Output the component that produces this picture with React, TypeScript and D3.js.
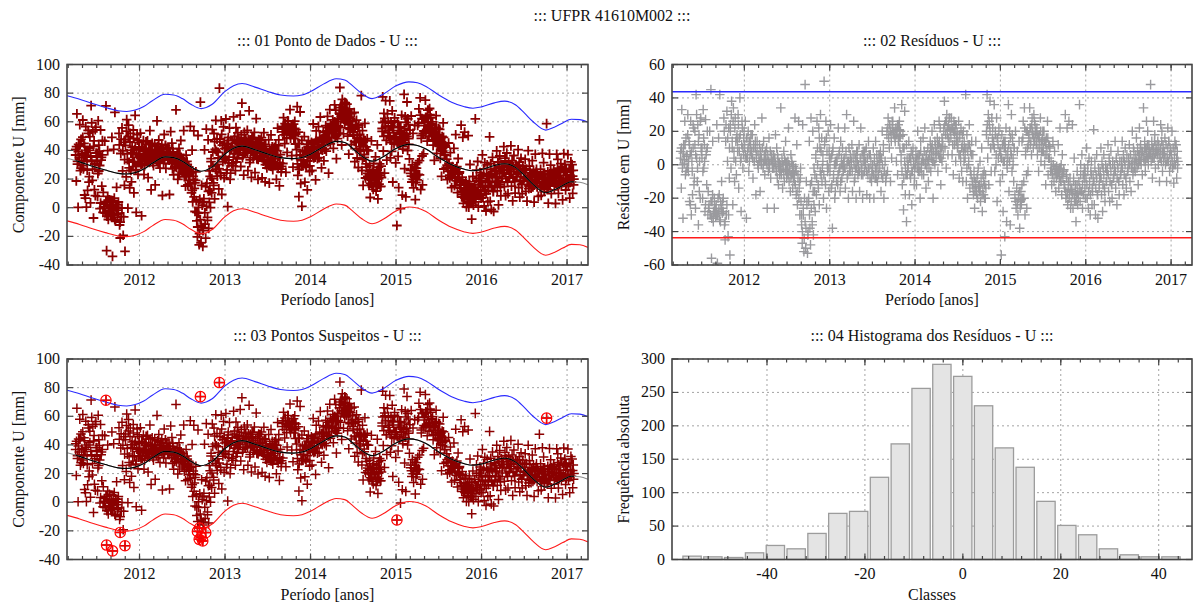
import React from 'react';
import * as d3 from 'd3';

// ---------------- data ----------------
const tituloGeral = '::: UFPR 41610M002 :::';
const titulos = [
  '::: 01 Ponto de Dados - U :::',
  '::: 02 Resíduos - U :::',
  '::: 03 Pontos Suspeitos - U :::',
  '::: 04 Histograma dos Resíduos - U :::',
];
const anosTicks = [2012, 2013, 2014, 2015, 2016, 2017];
const periodo: [number, number] = [2011.152, 2017.245];
const compTicks = [100, 80, 60, 40, 20, 0, -20, -40];
const resTicks = [60, 40, 20, 0, -20, -40, -60];
const freqTicks = [0, 50, 100, 150, 200, 250, 300];
const classeTicks = [-40, -20, 0, 20, 40];

// residuals (mm), one string per month, starting April 2011 (scattered readings)
const primeiroMes = 2011.25;
const residuosMensais: string[] = [
  '8 -14 33 0 -32 12 3 26 -6 16 5 -2',
  '30 -4 14 -22 6 26 -30 2 -18 10 22 -8',
  '12 -26 42 4 -10 24 -36 18 2 -20 28 8',
  '4 -20 33 -2 12 -28 27 6 -12 10 -30 -26',
  '-24 20 -30 45 -56 -22 14 -34 -28 -20 -26 -31',
  '-26 24 -59 -30 16 -18 42 -34 -24 -10 -28 -22',
  '-20 28 -36 -45 14 -30 32 2 -43 22 -8 -54',
  '24 -2 38 10 -24 34 4 -10 28 14 -6 18',
  '8 30 -14 16 40 2 -28 12 22 -2 6 20',
  '10 26 4 -32 16 8 20 -4 2 14 12 6',
  '6 18 -8 10 2 24 14 -18 4 8 0 -2',
  '4 12 -16 6 0 28 10 -2 14 2 -6 8',
  '2 10 -26 6 -4 16 0 8 -8 4 6 -2',
  '0 6 -26 2 18 -4 10 -8 4 -12 -2 -6',
  '-2 34 -6 4 -14 0 8 -10 2 14 -4 -8',
  '-4 2 22 -10 -2 -16 6 -6 0 -14 -8 -4',
  '-10 28 -2 -18 12 -24 -6 26 -14 -30 -8 -22',
  '-36 -47 24 -30 -52 -20 48 -50 -10 -24 -53 -40',
  '-22 14 -38 -48 28 -10 -34 20 -42 -2 -16 -28',
  '6 -18 26 0 -12 22 -24 10 30 -6 16 -2',
  '2 -20 50 14 -10 26 -26 8 -4 20 -16 4',
  '-2 24 -14 6 -38 10 -6 16 -20 2 0 -10',
  '4 -12 22 -4 8 -16 14 0 -8 10 -2 2',
  '-2 22 -14 6 30 -8 2 -20 10 0 -4 4',
  '0 12 -16 4 26 -10 6 -2 -20 8 2 -6',
  '-2 12 -16 4 22 -6 0 -20 8 6 -4 2',
  '0 10 -18 4 -6 14 -2 -20 6 2 -10 -4',
  '-4 10 -20 2 -8 14 -2 6 -10 0 -6 4',
  '0 8 -16 4 20 -8 12 -20 -4 2 -10 -6',
  '20 -4 28 16 10 24 -10 18 4 22 26 20',
  '18 34 14 22 2 20 -6 24 16 26 10 20',
  '2 36 -12 18 -27 10 32 -18 -6 -34 4 -2',
  '0 14 -18 4 -8 8 -24 -4 10 2 -12 -2',
  '2 8 -12 4 20 -4 0 6 -20 14 -2 -6',
  '4 16 -6 8 22 0 -14 6 2 10 -10 -2',
  '6 14 -4 10 20 2 -20 8 24 0 12 4',
  '8 16 -4 12 26 4 22 -12 10 2 14 6',
  '22 38 10 26 -2 30 18 6 24 14 28 20',
  '18 28 6 22 -6 26 12 20 2 24 16 10',
  '14 26 -8 18 6 22 -4 12 -10 20 2 10',
  '6 42 -10 18 -20 12 0 24 -14 8 -6 14',
  '-12 6 -18 -4 -26 -10 14 -16 -8 -20 -2 -14',
  '-16 2 -22 -10 10 -28 -6 -18 -4 -12 -20 -14',
  '20 42 4 30 -12 24 38 10 -4 28 16 12',
  '12 36 -4 20 0 28 -22 16 4 22 8 -10',
  '6 -54 18 -6 -28 14 2 -43 10 22 -34 -2',
  '4 36 -16 20 -36 8 30 -4 14 0 -10 10',
  '-20 20 -26 -14 8 -30 -18 14 -38 -22 -16 -24',
  '14 -20 26 -10 34 -30 6 20 -26 10 -4 18',
  '16 34 12 22 6 28 18 10 30 14 24 20',
  '12 22 6 16 -4 18 10 28 2 14 8 20',
  '8 20 0 14 -12 16 6 26 -6 12 4 10',
  '-4 2 -12 -6 14 0 -10 8 -2 -16 -8 -4',
  '-6 12 -14 -2 22 -10 0 -18 6 -8 -4 -12',
  '-14 30 -20 -6 22 -24 -10 26 -18 -8 -26 -22',
  '-16 24 -26 -8 4 -22 -12 -34 -18 -4 -24 -20',
  '-10 36 -22 0 -16 6 -26 -6 -18 -2 -14 -20',
  '-8 10 -20 0 -26 4 -12 -30 -4 2 -24 -16',
  '-10 21 -24 2 -30 -6 6 -18 -32 -2 -14 -8',
  '-6 10 -18 2 -28 -2 6 -14 -22 0 -10 -4',
  '-4 12 -16 4 -22 0 8 -12 -20 2 -8 -6',
  '-2 14 -14 4 -24 0 8 -10 -18 2 -6 -4',
  '0 14 -12 6 -18 2 10 -8 -14 4 -4 -2',
  '2 12 -10 6 -16 0 20 -6 10 4 -2 -4',
  '4 16 -2 10 -12 6 22 2 12 0 8 -6',
  '8 34 2 14 -4 10 26 4 20 0 12 6',
  '6 48 2 14 -8 10 26 4 18 -2 12 8',
  '6 14 0 10 -10 4 24 2 20 -4 12 8',
  '6 16 0 12 -10 4 22 2 14 -4 10 8',
  '6 20 -2 10 -11 4 14 0 12 -8 8 2',
];

// residuals (mm) in the dense core of each month, same months
const residuosNucleo: string[] = [
  '4 10 -2 7 1 12 -4 6',
  '18 2 12 -24 8 -4 24 -12',
  '20 6 30 -2 14 -16 26 10',
  '10 -4 16 2 -24 8 20 -16',
  '-26 -30 -22 -32 -18 -28 -24 -29',
  '-24 -30 -20 -27 -33 -22 -26 -29',
  '-28 20 -34 24 -24 16 -30 10',
  '20 30 14 26 8 22 2 16',
  '14 24 8 18 4 26 10 16',
  '12 6 16 4 10 14 8 18',
  '8 4 12 2 10 6 14 0',
  '6 2 8 4 10 0 6 3',
  '4 0 6 2 -2 8 3 1',
  '2 -2 4 0 -4 6 -1 1',
  '0 -4 2 -2 -6 4 -3 1',
  '-2 -6 0 -4 -8 2 -5 -1',
  '-6 -12 -4 -16 -8 -20 -10 -2',
  '-30 -40 -26 -44 -34 -38 -22 -42',
  '-20 -30 -12 -26 -36 -16 -24 -6',
  '4 -8 10 -14 16 -4 8 -10',
  '6 -6 12 -12 16 0 -2 8',
  '-4 4 -12 8 -8 0 -16 2',
  '2 -6 6 -2 -10 4 0 -4',
  '4 -2 8 0 -6 2 -4 6',
  '2 -4 6 0 -8 4 -2 8',
  '0 -4 4 -2 6 -6 2 8',
  '2 -4 4 -2 6 -8 0 -6',
  '0 -6 4 -2 -8 2 -4 6',
  '-2 4 -6 0 8 -4 2 -8',
  '18 22 16 24 20 14 26 19',
  '20 16 22 18 24 14 21 17',
  '6 -4 10 -8 2 -2 12 -6',
  '-2 4 -6 2 -4 6 0 -8',
  '0 4 -2 6 2 -4 8 1',
  '4 2 8 0 6 -2 10 3',
  '6 10 4 12 8 2 14 7',
  '8 12 6 14 10 4 16 11',
  '20 24 18 26 22 16 28 21',
  '16 22 12 20 18 24 14 19',
  '12 6 16 2 10 18 8 14',
  '4 10 -2 8 2 12 -4 6',
  '-10 -14 -8 -16 -12 -18 -6 -13',
  '-12 -16 -8 -18 -14 -10 -20 -6',
  '18 24 14 26 20 10 28 22',
  '14 10 18 6 16 12 20 8',
  '8 4 12 2 10 14 6 0',
  '8 12 2 16 6 18 4 10',
  '-18 -22 -14 -24 -20 -16 -26 -21',
  '-12 16 -20 22 8 -6 20 12',
  '18 22 14 24 20 16 26 19',
  '14 18 10 16 12 20 8 15',
  '10 14 6 12 8 16 4 11',
  '-4 -2 -6 0 -8 -3 -5 -1',
  '-6 -4 -8 -2 -10 -5 -7 -3',
  '-12 -16 -8 -18 -14 -20 -10 -15',
  '-14 -18 -10 -20 -16 -22 -12 -17',
  '-10 -14 -6 -16 -12 -18 -8 -4',
  '-8 -12 -4 -16 -10 -18 -6 -14',
  '-6 -10 -2 -14 -8 -18 -4 -12',
  '-4 -8 0 -12 -6 -16 -2 -10',
  '-2 -6 2 -10 -4 -12 0 -8',
  '0 -4 4 -8 -2 -10 2 -6',
  '2 -2 4 -6 0 -8 6 -4',
  '4 0 6 -2 2 -4 8 1',
  '6 2 8 0 4 10 3 7',
  '8 4 10 2 6 12 5 9',
  '8 6 12 4 10 14 7 9',
  '8 6 12 4 10 14 7 2',
  '8 4 12 2 10 14 6 0',
  '6 2 10 0 8 12 4 -2',
];

// fitted model (black curve) knots
const modeloT = [
  2011.152, 2011.3, 2011.45, 2011.6, 2011.75, 2011.85, 2011.95, 2012.05, 2012.15, 2012.3,
  2012.4, 2012.5, 2012.6, 2012.72, 2012.85, 2013.0, 2013.1, 2013.2, 2013.35, 2013.5,
  2013.65, 2013.8, 2013.9, 2014.0, 2014.15, 2014.3, 2014.4, 2014.5, 2014.6, 2014.72,
  2014.85, 2015.0, 2015.15, 2015.25, 2015.35, 2015.5, 2015.65, 2015.8, 2015.9, 2016.0,
  2016.15, 2016.27, 2016.4, 2016.5, 2016.6, 2016.75, 2016.85, 2016.95, 2017.05, 2017.15,
  2017.245,
];
const modeloV = [
  34.5, 32, 29, 26.3, 24, 23.5, 24.5, 27, 31, 35.5,
  35, 32.5, 28.6, 25.5, 28.5, 37.5, 41.5, 43, 40.5, 37.5,
  35, 34.3, 35, 37.4, 42.6, 46.3, 45.5, 41, 36, 32.5,
  35.6, 41.4, 44.2, 43.5, 41, 35, 30, 26.8, 25.8, 26.7,
  29.5, 30.7, 28, 22.5, 16.5, 10.5, 12.5, 15.5, 18.1, 17.8,
  16,
];
const limite3s = 43.7;

// histogram of residuals
const classeCentros = [
  -55.3, -51.05, -46.8, -42.54, -38.29, -34.04, -29.79, -25.54, -21.28, -17.03, -12.78, -8.53,
  -4.28, -0.02, 4.23, 8.48, 12.73, 16.98, 21.24, 25.49, 29.74, 33.99, 38.24, 42.5,
];
const classeLargura = 4.25;
const frequencias = [5, 4, 3, 10, 21, 16, 39, 69, 72, 123, 173, 256, 292, 274, 230, 167, 138, 87, 51, 37, 16, 7, 4, 4];

// ---------------- derived ----------------
type Pt = { t: number; r: number; v: number };
const modelo = d3.scaleLinear().domain(modeloT).range(modeloV);
function expandir(lista: string[], desloc: number): Pt[] {
  return lista.flatMap((s, m) => {
    const vals = s.trim().split(/\s+/).map(Number);
    return vals.map((r, j) => {
      const t = primeiroMes + (m + (j + desloc) / vals.length) / 12;
      return { t, r, v: modelo(t) + r };
    });
  });
}
const pontos: Pt[] = [...expandir(residuosMensais, 0.5), ...expandir(residuosNucleo, 0.3)];
const primeiroT = d3.min(pontos, (p) => p.t) as number;
const ultimoT = d3.max(pontos, (p) => p.t) as number;
const suspeitos = pontos.filter((p) => Math.abs(p.r) > limite3s);

// ---------------- layout ----------------
const FONT = '"Liberation Serif", "Times New Roman", Times, "DejaVu Serif", serif';
const FS = 16;
type Box = { x0: number; x1: number; y0: number; y1: number };
const B1: Box = { x0: 67, x1: 588, y0: 64.5, y1: 265 };
const B2: Box = { x0: 672, x1: 1192, y0: 64.5, y1: 265 };
const B3: Box = { x0: 67, x1: 588, y0: 359, y1: 559.5 };
const B4: Box = { x0: 672, x1: 1192, y0: 359, y1: 559.5 };

const GRID = '#9a9a9a';
const FRAME = '#444';

function crosses(pts: Pt[], x: (t: number) => number, y: (v: number) => number, key: 'v' | 'r', s = 4.8) {
  return pts
    .map((p) => {
      const cx = x(p.t);
      const cy = y(p[key]);
      return `M${(cx - s).toFixed(1)},${cy.toFixed(1)}h${2 * s}M${cx.toFixed(1)},${(cy - s).toFixed(1)}v${2 * s}`;
    })
    .join('');
}

function Grid({ b, xs, ys }: { b: Box; xs: number[]; ys: number[] }) {
  return (
    <g>
      {xs.map((x, i) => (
        <line key={'gx' + i} x1={x} x2={x} y1={b.y0} y2={b.y1} stroke={GRID} strokeWidth={0.9} strokeDasharray="2,3" />
      ))}
      {ys.map((y, i) => (
        <line key={'gy' + i} x1={b.x0} x2={b.x1} y1={y} y2={y} stroke={GRID} strokeWidth={0.9} strokeDasharray="2,3" />
      ))}
    </g>
  );
}

function Frame({ b, xs, xsMin, ys }: { b: Box; xs: number[]; xsMin: number[]; ys: number[] }) {
  const L = 6;
  const l = 3.5;
  return (
    <g stroke={FRAME} strokeWidth={1.2}>
      {xs.map((x, i) => (
        <g key={'tx' + i}>
          <line x1={x} x2={x} y1={b.y1} y2={b.y1 - L} />
          <line x1={x} x2={x} y1={b.y0} y2={b.y0 + L} />
        </g>
      ))}
      {xsMin.map((x, i) => (
        <g key={'tm' + i}>
          <line x1={x} x2={x} y1={b.y1} y2={b.y1 - l} />
          <line x1={x} x2={x} y1={b.y0} y2={b.y0 + l} />
        </g>
      ))}
      {ys.map((y, i) => (
        <g key={'ty' + i}>
          <line x1={b.x0} x2={b.x0 + L} y1={y} y2={y} />
          <line x1={b.x1} x2={b.x1 - L} y1={y} y2={y} />
        </g>
      ))}
      <rect x={b.x0} y={b.y0} width={b.x1 - b.x0} height={b.y1 - b.y0} fill="none" strokeWidth={1.6} />
    </g>
  );
}

function Labels({
  b, xs, xl, ys, yl, title, xTitle, yTitle, yTitleX,
}: {
  b: Box; xs: number[]; xl: string[]; ys: number[]; yl: string[]; title: string; xTitle: string; yTitle: string; yTitleX: number;
}) {
  const cx = (b.x0 + b.x1) / 2;
  const cy = (b.y0 + b.y1) / 2;
  return (
    <g style={{ fontFamily: FONT, fontSize: FS }} fill="#111">
      {xs.map((x, i) => (
        <text key={'lx' + i} x={x} y={b.y1 + 19.5} textAnchor="middle">{xl[i]}</text>
      ))}
      {ys.map((y, i) => (
        <text key={'ly' + i} x={b.x0 - 7} y={y + 5} textAnchor="end">{yl[i]}</text>
      ))}
      <text x={cx} y={b.y0 - 18.5} textAnchor="middle">{title}</text>
      <text x={cx} y={b.y1 + 40} textAnchor="middle">{xTitle}</text>
      <text transform={`translate(${yTitleX + 5},${cy}) rotate(-90)`} textAnchor="middle">{yTitle}</text>
    </g>
  );
}

function TimeSeriesPanel({ b, id, suspects }: { b: Box; id: string; suspects: boolean }) {
  const x = d3.scaleLinear().domain(periodo).range([b.x0, b.x1]);
  const y = d3.scaleLinear().domain([-40, 100]).range([b.y1, b.y0]);
  const xs = anosTicks.map(x);
  const xsMin = d3.range(Math.ceil(periodo[0] * 6), Math.floor(periodo[1] * 6) + 1).map((k) => x(k / 6));
  const ys = compTicks.map(y);
  const line = d3
    .line<number>()
    .x((_, i) => x(modeloT[i]))
    .y((v) => y(v))
    .curve(d3.curveMonotoneX);
  const dModel = line(modeloV) || '';
  const dUp = line(modeloV.map((v) => v + limite3s)) || '';
  const dDn = line(modeloV.map((v) => v - limite3s)) || '';
  return (
    <g>
      <defs>
        <clipPath id={id + 'c'}>
          <rect x={b.x0} y={b.y0} width={b.x1 - b.x0} height={b.y1 - b.y0} />
        </clipPath>
        <clipPath id={id + 'd'}>
          <rect x={x(primeiroT)} y={b.y0} width={x(ultimoT) - x(primeiroT)} height={b.y1 - b.y0} />
        </clipPath>
      </defs>
      <Grid b={b} xs={xs} ys={ys} />
      <g clipPath={`url(#${id}c)`}>
        <path
          d={crosses(pontos, x, y, 'v')}
          stroke="#8b0000"
          strokeWidth={suspects ? 1.5 : 1.8}
          fill="none"
        />
        <path d={dModel} stroke="#8a8a8a" strokeWidth={1.1} fill="none" />
        <path d={dModel} stroke="#000" strokeWidth={1.1} fill="none" clipPath={`url(#${id}d)`} />
        <path d={dUp} stroke="#2a2aff" strokeWidth={1.1} fill="none" />
        <path d={dDn} stroke="#ff1a1a" strokeWidth={1.1} fill="none" />
        {suspects &&
          suspeitos.map((p, i) => {
            const cx = x(p.t);
            const cy = y(p.v);
            return (
              <g key={'s' + i} stroke="#ff0000" strokeWidth={1.2} fill="none">
                <circle cx={cx} cy={cy} r={5.2} />
                <path d={`M${cx - 5},${cy}h10M${cx},${cy - 5}v10`} />
              </g>
            );
          })}
      </g>
      <Frame b={b} xs={xs} xsMin={xsMin} ys={ys} />
      <Labels
        b={b}
        xs={xs}
        xl={anosTicks.map(String)}
        ys={ys}
        yl={compTicks.map(String)}
        title={suspects ? titulos[2] : titulos[0]}
        xTitle="Período [anos]"
        yTitle="Componente U [mm]"
        yTitleX={19}
      />
    </g>
  );
}

function ResidualPanel({ b }: { b: Box }) {
  const x = d3.scaleLinear().domain(periodo).range([b.x0, b.x1]);
  const y = d3.scaleLinear().domain([-60, 60]).range([b.y1, b.y0]);
  const xs = anosTicks.map(x);
  const xsMin = d3.range(Math.ceil(periodo[0] * 6), Math.floor(periodo[1] * 6) + 1).map((k) => x(k / 6));
  const ys = resTicks.map(y);
  return (
    <g>
      <defs>
        <clipPath id="rc">
          <rect x={b.x0} y={b.y0} width={b.x1 - b.x0} height={b.y1 - b.y0} />
        </clipPath>
      </defs>
      <Grid b={b} xs={xs} ys={ys} />
      <g clipPath="url(#rc)">
        <path d={crosses(pontos, x, y, 'r')} stroke="#9a9a9e" strokeWidth={1.4} fill="none" />
        <line x1={b.x0} x2={b.x1} y1={y(limite3s)} y2={y(limite3s)} stroke="#2a2aff" strokeWidth={1.3} />
        <line x1={b.x0} x2={b.x1} y1={y(-limite3s)} y2={y(-limite3s)} stroke="#ff1a1a" strokeWidth={1.3} />
      </g>
      <Frame b={b} xs={xs} xsMin={xsMin} ys={ys} />
      <Labels
        b={b}
        xs={xs}
        xl={anosTicks.map(String)}
        ys={ys}
        yl={resTicks.map(String)}
        title={titulos[1]}
        xTitle="Período [anos]"
        yTitle="Resíduo em U [mm]"
        yTitleX={624}
      />
    </g>
  );
}

function HistogramPanel({ b }: { b: Box }) {
  const x = d3.scaleLinear().domain([-59.4, 46.8]).range([b.x0, b.x1]);
  const y = d3.scaleLinear().domain([0, 300]).range([b.y1, b.y0]);
  const xs = classeTicks.map(x);
  const xsMin = d3.range(-56, 47, 4).map(x);
  const ys = freqTicks.map(y);
  const bw = (x(classeLargura) - x(0)) * 0.88;
  return (
    <g>
      <Grid b={b} xs={xs} ys={ys} />
      {classeCentros.map((c, i) => (
        <rect
          key={'b' + i}
          x={x(c) - bw / 2}
          y={y(frequencias[i])}
          width={bw}
          height={y(0) - y(frequencias[i])}
          fill="#e4e4e4"
          stroke="#9c9c9c"
          strokeWidth={1.3}
        />
      ))}
      <Frame b={b} xs={xs} xsMin={xsMin} ys={ys} />
      <Labels
        b={b}
        xs={xs}
        xl={classeTicks.map(String)}
        ys={ys}
        yl={freqTicks.map(String)}
        title={titulos[3]}
        xTitle="Classes"
        yTitle="Frequência absoluta"
        yTitleX={624}
      />
    </g>
  );
}

export default function App() {
  return (
    <svg
      width={1196}
      height={605}
      viewBox="0 0 1196 605"
      style={{ position: 'absolute', left: 0, top: 0, background: '#fff', fontFamily: FONT }}
    >
      <rect x={0} y={0} width={1196} height={605} fill="#fff" />
      <text x={612} y={21} textAnchor="middle" style={{ fontFamily: FONT, fontSize: FS }} fill="#111">
        {tituloGeral}
      </text>
      <TimeSeriesPanel b={B1} id="p1" suspects={false} />
      <ResidualPanel b={B2} />
      <TimeSeriesPanel b={B3} id="p3" suspects={true} />
      <HistogramPanel b={B4} />
    </svg>
  );
}
